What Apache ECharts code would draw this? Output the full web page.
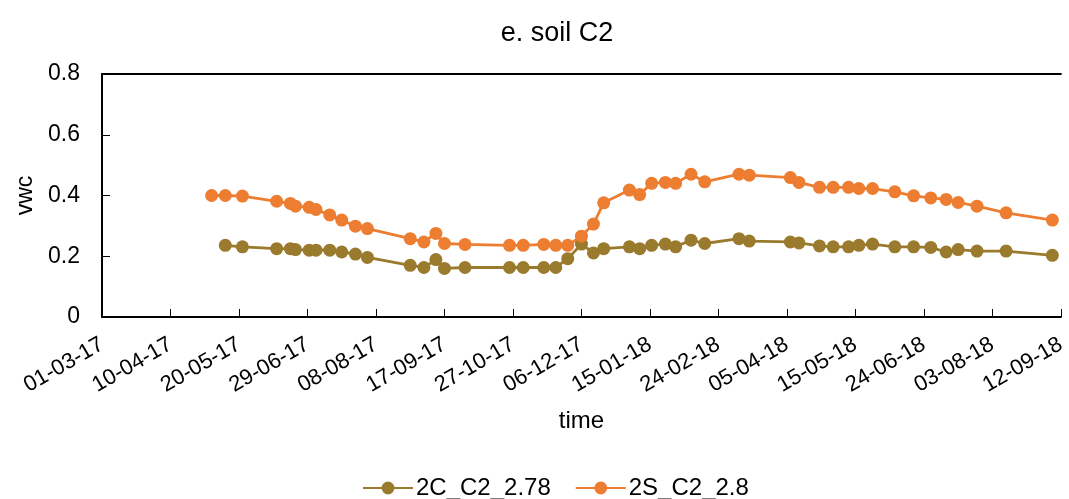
<!DOCTYPE html>
<html>
<head>
<meta charset="utf-8">
<script src="https://cdn.jsdelivr.net/npm/echarts@6/dist/echarts.min.js"></script>
<style>
  html, body { margin: 0; padding: 0; background: #fff; }
  #chart { width: 1069px; height: 499px; }
</style>
</head>
<body>
<div id="chart"></div>
<script>
// Sampling dates (yyyy-mm-dd)
const sampleDates = [
  '2017-05-04', '2017-05-12', '2017-05-22', '2017-06-11', '2017-06-19', '2017-06-22',
  '2017-06-30', '2017-07-04', '2017-07-12', '2017-07-19', '2017-07-27', '2017-08-03',
  '2017-08-28', '2017-09-05', '2017-09-12', '2017-09-17', '2017-09-29', '2017-10-25',
  '2017-11-02', '2017-11-14', '2017-11-21', '2017-11-28', '2017-12-06', '2017-12-13',
  '2017-12-19', '2018-01-03', '2018-01-09', '2018-01-16', '2018-01-24', '2018-01-30',
  '2018-02-08', '2018-02-16', '2018-03-08', '2018-03-14', '2018-04-07', '2018-04-12',
  '2018-04-24', '2018-05-02', '2018-05-11', '2018-05-17', '2018-05-25', '2018-06-07',
  '2018-06-18', '2018-06-28', '2018-07-07', '2018-07-14', '2018-07-25', '2018-08-11',
  '2018-09-07'
];

// Volumetric water content, sensor 2C_C2_2.78 (no reading on the first date)
const vwc2C = [
  null, 0.236, 0.231, 0.225, 0.225, 0.222,
  0.220, 0.220, 0.220, 0.214, 0.207, 0.196,
  0.170, 0.163, 0.189, 0.160, 0.163, 0.163,
  0.163, 0.163, 0.163, 0.192, 0.240, 0.211,
  0.225, 0.231, 0.225, 0.236, 0.240, 0.231,
  0.253, 0.242, 0.258, 0.250, 0.247, 0.244,
  0.234, 0.231, 0.231, 0.236, 0.240, 0.231,
  0.231, 0.229, 0.214, 0.222, 0.217, 0.217,
  0.203
];

// Volumetric water content, sensor 2S_C2_2.8
const vwc2S = [
  0.400, 0.400, 0.398, 0.381, 0.374, 0.365,
  0.361, 0.354, 0.336, 0.319, 0.299, 0.291,
  0.258, 0.247, 0.275, 0.242, 0.239, 0.236,
  0.236, 0.239, 0.236, 0.236, 0.266, 0.306,
  0.376, 0.418, 0.403, 0.440, 0.443, 0.440,
  0.470, 0.445, 0.470, 0.467, 0.459, 0.443,
  0.427, 0.427, 0.427, 0.423, 0.423, 0.412,
  0.399, 0.392, 0.387, 0.377, 0.365, 0.343,
  0.319
];

const seriesNames = ['2C_C2_2.78', '2S_C2_2.8'];
const seriesColors = ['#9a7a2c', '#ed7d31'];

// Time axis range and tick step (days)
const axisStart = '2017-03-01';
const axisEnd = '2018-09-12';
const tickStepDays = 40;

const DAY = 86400000;
const toTs = s => {
  const [y, m, d] = s.split('-').map(Number);
  return Date.UTC(y, m - 1, d);
};
const pad = n => String(n).padStart(2, '0');
const fmtDate = ts => {
  const d = new Date(ts);
  return pad(d.getUTCDate()) + '-' + pad(d.getUTCMonth() + 1) + '-' + pad(d.getUTCFullYear() % 100);
};

const pairs = vals => sampleDates.map((d, i) => [toTs(d), vals[i]]);

const FONT = '"Liberation Sans", Arial, sans-serif';
const chart = echarts.init(document.getElementById('chart'), null, { renderer: 'canvas' });

const lineSeries = (name, vals, color) => ({
  name,
  type: 'line',
  data: pairs(vals),
  symbol: 'circle',
  symbolSize: 13,
  showSymbol: true,
  connectNulls: false,
  lineStyle: { color, width: 2.8 },
  itemStyle: { color },
  emphasis: { disabled: true },
  animation: false
});

chart.setOption({
  animation: false,
  backgroundColor: '#ffffff',
  title: {
    text: 'e. soil C2',
    left: 552,
    textAlign: 'center',
    top: 15,
    textStyle: { fontFamily: FONT, fontSize: 27, fontWeight: 'normal', color: '#000' }
  },
  legend: {
    top: 471,
    left: 357,
    itemWidth: 50,
    itemHeight: 16,
    itemGap: 24,
    data: seriesNames,
    textStyle: { fontFamily: FONT, fontSize: 24, color: '#000', padding: [0, 0, 0, -2] }
  },
  grid: { left: 102, right: 3, top: 74, bottom: 182, containLabel: false },
  xAxis: [
    {
      type: 'value',
      min: toTs(axisStart),
      max: toTs(axisEnd),
      interval: tickStepDays * DAY,
      name: 'time',
      nameLocation: 'middle',
      nameGap: 92,
      nameTextStyle: { fontFamily: FONT, fontSize: 24, color: '#000' },
      axisLine: { show: true, onZero: false, lineStyle: { color: '#000', width: 2 } },
      axisTick: { show: true, inside: true, length: 8, lineStyle: { color: '#000', width: 1 } },
      splitLine: { show: false },
      axisLabel: {
        rotate: 30,
        margin: 26,
        fontFamily: FONT,
        fontSize: 22,
        color: '#000',
        formatter: v => fmtDate(v)
      }
    },
    {
      type: 'value',
      position: 'top',
      min: toTs(axisStart),
      max: toTs(axisEnd),
      axisLine: { show: true, onZero: false, lineStyle: { color: '#000', width: 2 } },
      axisTick: { show: false },
      axisLabel: { show: false },
      splitLine: { show: false }
    }
  ],
  yAxis: {
    type: 'value',
    min: 0,
    max: 0.8,
    interval: 0.2,
    name: 'vwc',
    nameLocation: 'middle',
    nameGap: 62,
    nameTextStyle: { fontFamily: FONT, fontSize: 23, color: '#000' },
    axisLine: { show: true, lineStyle: { color: '#000', width: 2 } },
    axisTick: { show: true, inside: true, length: 8, lineStyle: { color: '#000', width: 1 } },
    splitLine: { show: false },
    axisLabel: {
      margin: 22,
      fontFamily: FONT,
      fontSize: 23,
      color: '#000',
      formatter: v => (v === 0 ? '0' : v.toFixed(1))
    }
  },
  series: [
    lineSeries(seriesNames[0], vwc2C, seriesColors[0]),
    lineSeries(seriesNames[1], vwc2S, seriesColors[1])
  ]
});
</script>
</body>
</html>
